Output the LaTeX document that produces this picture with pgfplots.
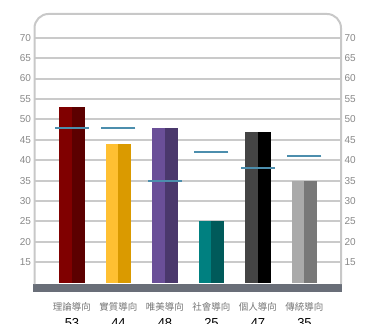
\documentclass[border=0pt]{standalone}
\usepackage{pgfplots}
\pgfplotsset{compat=1.18}
\usepackage{fontspec}
\setmainfont{Liberation Sans}
\newfontfamily\cjk{Noto Sans CJK TC}
\definecolor{gridc}{HTML}{CACACA}
\definecolor{framec}{HTML}{C8C8C8}
\definecolor{tickc}{HTML}{888888}
\definecolor{catc}{HTML}{777777}
\definecolor{basec}{HTML}{696E78}
\definecolor{tgt}{HTML}{4C8EAD}
\definecolor{aA}{HTML}{800000}\definecolor{aB}{HTML}{5C0000}
\definecolor{bA}{HTML}{FFC032}\definecolor{bB}{HTML}{DA9A00}
\definecolor{cA}{HTML}{6A4F98}\definecolor{cB}{HTML}{4A386C}
\definecolor{dA}{HTML}{008080}\definecolor{dB}{HTML}{005A5A}
\definecolor{eA}{HTML}{444444}\definecolor{eB}{HTML}{000000}
\definecolor{fA}{HTML}{AAAAAA}\definecolor{fB}{HTML}{787878}
\newcommand\cat[2]{{\color{catc}\cjk\fontsize{9.5}{11}\selectfont #1}\\[5pt]{\fontsize{13}{14}\selectfont #2}}
\begin{document}
\begin{tikzpicture}
\path[use as bounding box] (0,0) rectangle (365pt,324pt);
\begin{axis}[
  at={(34.5pt,41.3pt)}, anchor=south west, scale only axis,
  width=306.5pt, height=268.7pt,
  xmin=-0.806, xmax=5.785, ymin=10, ymax=75.8,
  clip mode=individual,
  axis line style={draw=none},
  ytick={15,20,...,70},
  ymajorgrids, major grid style={gridc, line width=2pt},
  major tick length=0pt,
  yticklabel style={text=tickc, font=\fontsize{10}{12}\selectfont},
  /pgf/number format/assume math mode=true,
  xtick={0,...,5},
  xticklabels={{\cat{理論導向}{53}},{\cat{實質導向}{44}},{\cat{唯美導向}{48}},{\cat{社會導向}{25}},{\cat{個人導向}{47}},{\cat{傳統導向}{35}}},
  xticklabel style={align=center, anchor=north, yshift=-16pt},
]
\fill[basec] (axis cs:-0.832,9.68) rectangle (axis cs:5.813,7.72);
\draw[framec, line width=2pt, rounded corners=14pt] (axis cs:-0.806,9.68) -- (axis cs:-0.806,75.8) -- (axis cs:5.785,75.8) -- (axis cs:5.785,9.68);
\addplot[ybar, bar width=12.75pt, bar shift=-6.375pt, fill=aA, draw=none] coordinates {(0,53)};
\addplot[ybar, bar width=12.75pt, bar shift=6.375pt, fill=aB, draw=none] coordinates {(0,53)};
\addplot[ybar, bar width=12.75pt, bar shift=-6.375pt, fill=bA, draw=none] coordinates {(1,44)};
\addplot[ybar, bar width=12.75pt, bar shift=6.375pt, fill=bB, draw=none] coordinates {(1,44)};
\addplot[ybar, bar width=12.75pt, bar shift=-6.375pt, fill=cA, draw=none] coordinates {(2,48)};
\addplot[ybar, bar width=12.75pt, bar shift=6.375pt, fill=cB, draw=none] coordinates {(2,48)};
\addplot[ybar, bar width=12.75pt, bar shift=-6.375pt, fill=dA, draw=none] coordinates {(3,25)};
\addplot[ybar, bar width=12.75pt, bar shift=6.375pt, fill=dB, draw=none] coordinates {(3,25)};
\addplot[ybar, bar width=12.75pt, bar shift=-6.375pt, fill=eA, draw=none] coordinates {(4,47)};
\addplot[ybar, bar width=12.75pt, bar shift=6.375pt, fill=eB, draw=none] coordinates {(4,47)};
\addplot[ybar, bar width=12.75pt, bar shift=-6.375pt, fill=fA, draw=none] coordinates {(5,35)};
\addplot[ybar, bar width=12.75pt, bar shift=6.375pt, fill=fB, draw=none] coordinates {(5,35)};
\addplot[only marks, mark=-, mark size=17pt, mark options={line width=2pt, color=tgt}] coordinates {(0,48) (1,48) (2,35) (3,42) (4,38) (5,41)};
\end{axis}
\begin{axis}[
  at={(34.5pt,41.3pt)}, anchor=south west, scale only axis,
  width=306.5pt, height=268.7pt,
  xmin=-0.806, xmax=5.785, ymin=10, ymax=75.8,
  axis x line=none, axis y line*=right,
  y axis line style={draw=none},
  ytick={15,20,...,70}, major tick length=0pt,
  yticklabel style={text=tickc, font=\fontsize{10}{12}\selectfont},
  /pgf/number format/assume math mode=true,
]
\addplot[draw=none] coordinates {(0,10)};
\end{axis}
\end{tikzpicture}
\end{document}
